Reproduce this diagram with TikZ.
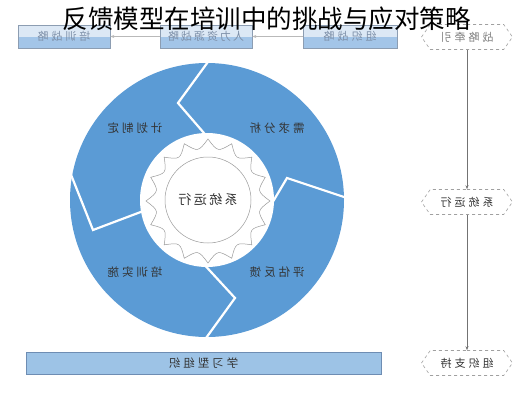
\documentclass[tikz,border=0pt]{standalone}
\usepackage{fontspec}
\setmainfont{Noto Sans CJK SC}
\usetikzlibrary{shapes.symbols,arrows.meta}
\definecolor{ringblue}{HTML}{5B9BD5}
\definecolor{boxtop}{HTML}{DCE8F5}
\definecolor{boxlow}{HTML}{A3C5E8}
\definecolor{boxedge}{HTML}{8C9DB2}
\definecolor{boxtext}{HTML}{7D8FA8}
\definecolor{barfill}{HTML}{9DC3E6}
\definecolor{baredge}{HTML}{6E8DB3}
\definecolor{labeltext}{HTML}{333333}
\definecolor{hexedge}{HTML}{A0A0A0}
\newcommand{\mir}[1]{\reflectbox{#1}}
\tikzset{
  topbox/.style={draw=boxedge, line width=0.6pt, fill=boxtop, minimum width=92pt, minimum height=23pt, inner sep=0pt,
    text=boxtext, font=\fontsize{11}{11}\selectfont,
    path picture={\fill[boxlow] (path picture bounding box.west) rectangle (path picture bounding box.south east);}},
  hexbox/.style={signal, signal to=east and west, signal pointer angle=110, draw=hexedge, dashed, line width=0.6pt,
    minimum width=91pt, minimum height=25pt, inner sep=0pt, text=labeltext, font=\fontsize{11}{11}\selectfont},
  ringlabel/.style={text=labeltext, font=\fontsize{11.5}{11.5}\selectfont, inner sep=0pt},
  sep/.style={draw=white, line width=2.2pt, line join=miter},
  flow/.style={draw=gray!80, line width=0.6pt, -{Stealth[length=4pt,width=3pt]}},
}
\begin{document}
\begin{tikzpicture}[x=1pt,y=-1pt]
\useasboundingbox (0,0) rectangle (531,400);
\fill[white] (0,0) rectangle (531,400);

% top boxes
\node[topbox] (b1) at (64,36.5) {\mir{培\hspace{3pt}训\hspace{3pt}战\hspace{3pt}略}};
\node[topbox] (b2) at (206,36.5) {\mir{人\hspace{2pt}力\hspace{2pt}资\hspace{2pt}源\hspace{2pt}战\hspace{2pt}略}};
\node[topbox, minimum width=94pt] (b3) at (350,36.5) {\mir{组\hspace{3pt}织\hspace{3pt}战\hspace{3pt}略}};
\draw[flow, draw=gray!55] (b3.west) -- (b2.east);
\draw[flow, draw=gray!55] (b2.west) -- (b1.east);

% ring
\coordinate (cen) at (207,200);
\fill[ringblue] (cen) circle (137pt);
\draw[sep] (213,55) -- (178,103) -- (210,140);
\draw[sep] (350,199) -- (287,178) -- (268,210);
\draw[sep] (201,345) -- (235,298) -- (200,260);
\draw[sep] (66,162) -- (93,230) -- (146,210);
\fill[white] (cen) circle (67pt);

% seal / star
\begin{scope}[shift={(208,201)}]
\draw[gray!80, line width=0.5pt] (0:62pt) \foreach \i in {1,...,16}{ .. controls ({(\i-0.5)*22.5}:50pt) .. ({\i*22.5}:62pt) } -- cycle;
\end{scope}
\node[draw=gray!80, line width=0.5pt, circle, minimum size=86pt, inner sep=0pt, font=\fontsize{13}{13}\selectfont, text=labeltext] (core) at (208,200) {\mir{系\hspace{2.5pt}统\hspace{2.5pt}运\hspace{2.5pt}行}};

\node[ringlabel] (l1) at (277,128) {\mir{需\hspace{3pt}求\hspace{3pt}分\hspace{3pt}析}};
\node[ringlabel] (l2) at (135,128) {\mir{计\hspace{3pt}划\hspace{3pt}制\hspace{3pt}定}};
\node[ringlabel] (l3) at (135,272) {\mir{培\hspace{3pt}训\hspace{3pt}实\hspace{3pt}施}};
\node[ringlabel] (l4) at (277,272) {\mir{评\hspace{3pt}估\hspace{3pt}反\hspace{3pt}馈}};

% bottom bar
\node[draw=baredge, fill=barfill, line width=0.8pt, minimum width=355pt, minimum height=22pt, inner sep=0pt,
  text=labeltext, font=\fontsize{11.5}{11.5}\selectfont] (bar) at (203.5,363) {\mir{学\hspace{3pt}习\hspace{3pt}型\hspace{3pt}组\hspace{3pt}织}};

% right column
\node[hexbox, text=gray] (h1) at (467,37) {\mir{战\hspace{3pt}略\hspace{3pt}牵\hspace{3pt}引}};
\node[hexbox] (h2) at (467,202) {\mir{系\hspace{3pt}统\hspace{3pt}运\hspace{3pt}行}};
\node[hexbox] (h3) at (467,363) {\mir{组\hspace{3pt}织\hspace{3pt}支\hspace{3pt}持}};
\draw[flow, draw=gray!90!black] (h1.south) -- (h2.north);
\draw[flow, draw=gray!90!black] (h2.south) -- (h3.north);

% title
\node[inner sep=0pt, font=\fontsize{25.5}{25.5}\selectfont] (title) at (267,19) {反馈模型在培训中的挑战与应对策略};
\end{tikzpicture}
\end{document}
